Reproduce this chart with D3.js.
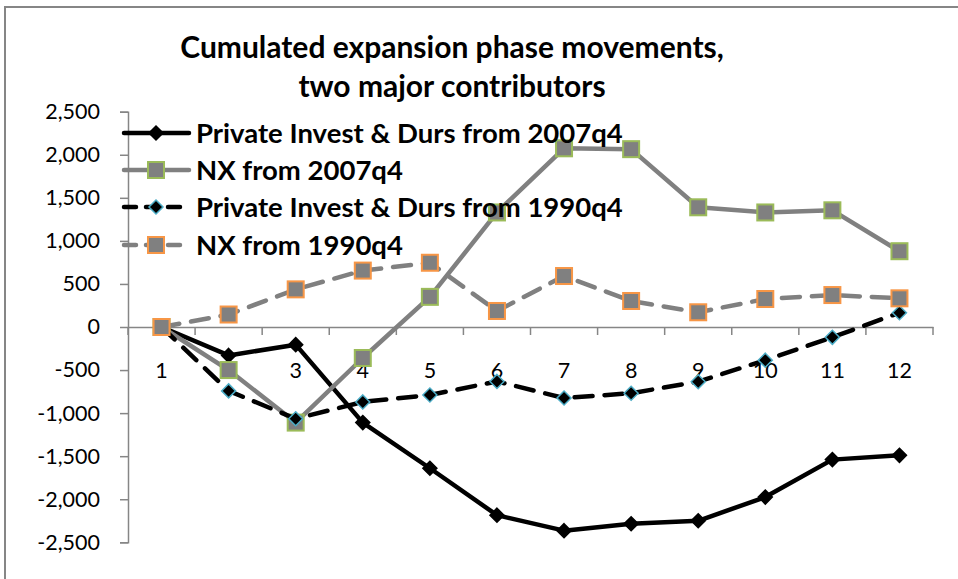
<!DOCTYPE html>
<meta charset="utf-8">
<head>
<style>
  body { margin: 0; background: #fff; }
  svg { display: block; font-family: Lato, "Open Sans", sans-serif; }
</style>
</head>
<body>
<div class="chart"></div>
<script src="https://d3js.org/d3.v7.min.js"></script>
<script>
const periods = [1, 2, 3, 4, 5, 6, 7, 8, 9, 10, 11, 12];
const yTicks = [-2500, -2000, -1500, -1000, -500, 0, 500, 1000, 1500, 2000, 2500];

const invest2007 = [0, -330, -205, -1110, -1640, -2185, -2365, -2285, -2250, -1975, -1540, -1490];
const nx2007 = [0, -500, -1110, -360, 350, 1330, 2075, 2065, 1390, 1330, 1355, 880];
const invest1990 = [0, -742, -1065, -870, -790, -632, -825, -769, -635, -385, -120, 166];
const nx1990 = [0, 145, 437, 655, 746, 186, 592, 302, 171, 325, 371, 333];

const seriesNames = [
  'Private Invest & Durs from 2007q4',
  'NX from 2007q4',
  'Private Invest & Durs from 1990q4',
  'NX from 1990q4'
];
const titleLines = ['Cumulated expansion phase movements,', 'two major contributors'];

const W = 958, H = 579;
const plot = { left: 128, right: 933, top: 111.7, bottom: 542.3 };

// styles per series, in draw order
const series = [
  { name: seriesNames[0], values: invest2007, stroke: '#000', dash: null, marker: 'diamond', fill: '#000', edge: '#000' },
  { name: seriesNames[1], values: nx2007, stroke: '#808080', dash: null, marker: 'square', fill: '#808080', edge: '#9bbb59' },
  { name: seriesNames[2], values: invest1990, stroke: '#000', dash: '18,12', marker: 'diamond', fill: '#000', edge: '#4bacc6' },
  { name: seriesNames[3], values: nx1990, stroke: '#808080', dash: '18,12', marker: 'square', fill: '#808080', edge: '#f79646' }
];

const svg = d3.select('.chart').append('svg')
  .attr('width', W)
  .attr('height', H);

// chart frame (only top/left edges visible in the crop)
svg.append('rect')
  .attr('x', 5).attr('y', 7)
  .attr('width', W + 20).attr('height', H + 20)
  .attr('fill', '#fff')
  .attr('stroke', '#868686')
  .attr('stroke-width', 2);

const x = d3.scaleBand()
  .domain(periods)
  .range([plot.left, plot.right]);

const y = d3.scaleLinear()
  .domain([-2500, 2500])
  .range([plot.bottom, plot.top]);

const fmt = d3.formatLocale({ decimal: '.', thousands: ',', grouping: [3], currency: ['', ''], minus: '-' }).format(',');

// y axis
const yAxis = svg.append('g')
  .attr('transform', `translate(${plot.left},0)`)
  .call(d3.axisLeft(y).tickValues(yTicks).tickFormat(fmt).tickSize(8).tickPadding(20));
yAxis.select('.domain').attr('stroke', '#868686').attr('stroke-width', 1.5);
yAxis.selectAll('.tick line').attr('stroke', '#868686').attr('stroke-width', 1.5);
yAxis.selectAll('.tick text')
  .attr('fill', '#000')
  .style('font-size', '21.5px')
  .style('font-family', 'Lato, sans-serif');

// x axis at zero
const xAxis = svg.append('g')
  .attr('transform', `translate(0,${y(0)})`)
  .call(d3.axisBottom(x).tickSize(0).tickPadding(0).tickSizeOuter(0));
xAxis.select('.domain').attr('stroke', '#868686').attr('stroke-width', 1.5);
xAxis.selectAll('.tick text')
  .attr('fill', '#000')
  .attr('y', 43)
  .attr('dy', '0.35em')
  .style('font-size', '21.5px')
  .style('font-family', 'Lato, sans-serif');
// tick marks on category boundaries
xAxis.selectAll('.bound')
  .data(periods.concat([null]))
  .enter()
  .append('line')
  .attr('class', 'bound')
  .attr('x1', (d, i) => plot.left + i * x.step())
  .attr('x2', (d, i) => plot.left + i * x.step())
  .attr('y1', 0)
  .attr('y2', 8)
  .attr('stroke', '#868686')
  .attr('stroke-width', 1.5);

const cx = d => x(d) + x.bandwidth() / 2;

const line = d3.line()
  .x((v, i) => cx(periods[i]))
  .y(v => y(v));

function drawMarker(g, kind, fill, edge) {
  if (kind === 'diamond') {
    g.append('path')
      .attr('d', 'M0,-7L7,0L0,7L-7,0Z')
      .attr('fill', fill)
      .attr('stroke', edge)
      .attr('stroke-width', 1.5);
  } else {
    g.append('rect')
      .attr('x', -8).attr('y', -8)
      .attr('width', 16).attr('height', 16)
      .attr('fill', fill)
      .attr('stroke', edge)
      .attr('stroke-width', 2);
  }
}

series.forEach(s => {
  svg.append('path')
    .datum(s.values)
    .attr('d', line)
    .attr('fill', 'none')
    .attr('stroke', s.stroke)
    .attr('stroke-width', 4.5)
    .attr('stroke-linejoin', 'round')
    .attr('stroke-linecap', s.dash ? 'round' : 'butt')
    .attr('stroke-dasharray', s.dash);

  s.values.forEach((v, i) => {
    const g = svg.append('g').attr('transform', `translate(${cx(periods[i])},${y(v)})`);
    drawMarker(g, s.marker, s.fill, s.edge);
  });
});

// legend
const legend = svg.append('g');
const rowY = [133, 170, 207, 245];
series.forEach((s, i) => {
  const g = legend.append('g').attr('transform', `translate(0,${rowY[i]})`);
  g.append('line')
    .attr('x1', 124).attr('x2', 189)
    .attr('y1', 0).attr('y2', 0)
    .attr('stroke', s.stroke)
    .attr('stroke-width', 4.5)
    .attr('stroke-linecap', 'round')
    .attr('stroke-dasharray', s.dash ? '12,10' : null);
  const m = g.append('g').attr('transform', 'translate(156,0)');
  drawMarker(m, s.marker, s.fill, s.edge);
  g.append('text')
    .attr('x', 196)
    .attr('y', 0)
    .attr('dy', '0.36em')
    .style('font-size', '27.5px')
    .style('font-weight', 'bold')
    .text(s.name);
});

// title
svg.append('g').selectAll('text')
  .data(titleLines)
  .enter()
  .append('text')
  .attr('x', 452)
  .attr('y', (d, i) => 58 + i * 39)
  .attr('text-anchor', 'middle')
  .style('font-size', '30px')
  .style('font-weight', 'bold')
  .text(d => d);
</script>
</body>
